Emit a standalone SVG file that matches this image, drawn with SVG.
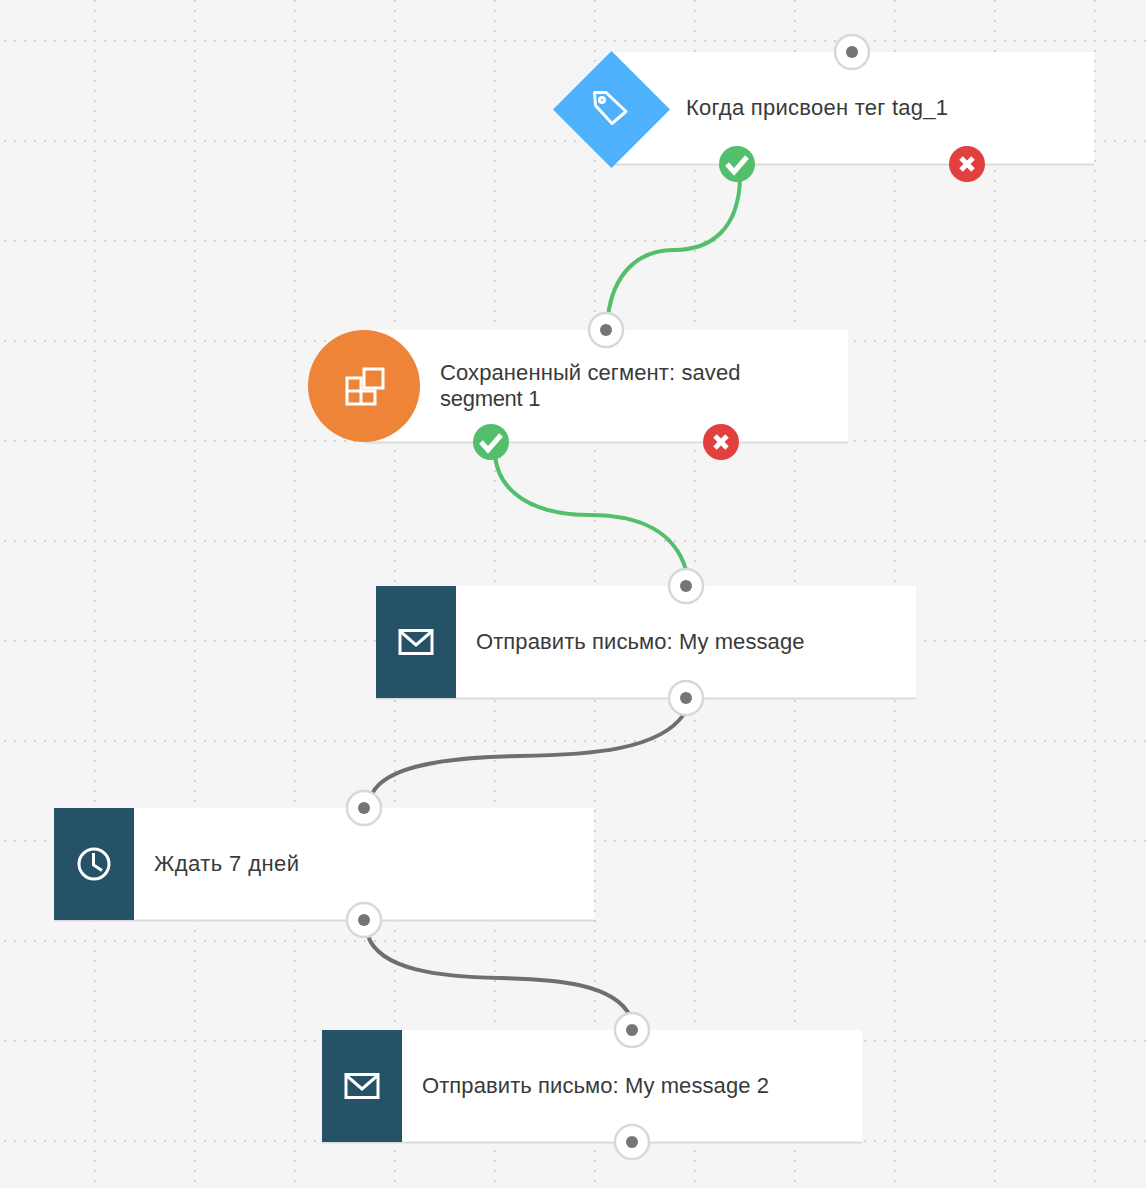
<svg xmlns="http://www.w3.org/2000/svg" width="1146" height="1188" viewBox="0 0 1146 1188">
<style>
.bg{fill:#f5f5f5}
.gh,.gv{stroke:#d2d2d2;stroke-width:2;stroke-dasharray:2 8;fill:none}
.card{fill:#fff}
.edge{fill:none;stroke:#dcdcdc;stroke-width:2}
.t{font-family:"Liberation Sans",Arial,sans-serif;font-size:22px;fill:#3a3a3a}
.dark{fill:#265268}
.ic{fill:none;stroke:#fff;stroke-width:3}
.port{fill:#fff;stroke:#d8d8d8;stroke-width:2.5}
.dot{fill:#757575}
.yes{fill:#53bf6b}
.no{fill:#e23f3f}
.mark{fill:none;stroke:#fff;stroke-width:5}
.cg{fill:none;stroke:#53bf6b;stroke-width:4;stroke-linecap:round}
.cd{fill:none;stroke:#6f6f6f;stroke-width:4;stroke-linecap:round}
</style>
<defs>
<g id="p"><circle r="17" class="port"/><circle r="6" class="dot"/></g>
<g id="y"><circle r="18" class="yes"/><path class="mark" d="M-10 0L-3 8L10 -7"/></g>
<g id="n"><circle r="18" class="no"/><path class="mark" d="M-6 -6L6 6M6 -6L-6 6"/></g>
<g id="mail"><rect x="-16" y="-11.500" width="32" height="23" class="ic"/><path class="ic" d="M-15 -10L0 3L15 -10"/></g>
</defs>
<rect class="bg" width="1146" height="1188"/>
<g id="grid">
<path class="gh" d="M4 41H1146M4 141H1146M4 241H1146M4 341H1146M4 441H1146M4 541H1146M4 641H1146M4 741H1146M4 841H1146M4 941H1146M4 1041H1146M4 1141H1146"/>
<path class="gv" d="M95 0V1188M195 0V1188M295 0V1188M395 0V1188M495 0V1188M595 0V1188M695 0V1188M795 0V1188M895 0V1188M995 0V1188M1095 0V1188"/>
</g>
<g id="connectors">
<path class="cg" d="M740 178C739 228 712 250 674 250C636 250 613 276 608 316"/>
<path class="cg" d="M495 456C499 492 532 515 590 515C640 515 675 532 686 570"/>
<path class="cd" d="M684 714C660 750 590 755 520 756C450 757 386 765 372 794"/>
<path class="cd" d="M368 936C380 970 440 977 500 978C560 979 615 985 630 1016"/>
</g>
<g id="node-trigger">
<rect class="card" x="612" y="52" width="482" height="112"/>
<path class="edge" d="M612 164.500H1094"/>
<path d="M611.500 51L670 109.500L611.500 168L553 109.500Z" fill="#4eb1fb"/>
<path class="ic" d="M594.500 92.500L606 92.500L626 111.500L612 123.500L595.500 105.500Z" stroke-linejoin="round"/>
<circle class="ic" cx="602" cy="100" r="2.500" stroke-width="2"/>
<text class="t" x="686" y="115" textLength="262">Когда присвоен тег tag_1</text>
<use href="#p" x="852" y="52"/>
<use href="#y" x="737" y="164"/>
<use href="#n" x="967" y="164"/>
</g>
<g id="node-segment">
<rect class="card" x="364" y="330" width="484" height="112"/>
<path class="edge" d="M364 442.500H848"/>
<circle cx="364" cy="386" r="56" fill="#ed8437"/>
<path class="ic" d="M347 378H361V404H347ZM347 391H375V404H361"/>
<rect class="ic" x="364" y="369" width="19" height="19"/>
<text class="t" x="440" y="380" textLength="300.500">Сохраненный сегмент: saved</text>
<text class="t" x="440" y="406" textLength="100.500">segment 1</text>
<use href="#p" x="606" y="330"/>
<use href="#y" x="491" y="442"/>
<use href="#n" x="721" y="442"/>
</g>
<g id="node-mail-1">
<rect class="card" x="376" y="586" width="540" height="112"/>
<path class="edge" d="M376 698.500H916"/>
<rect class="dark" x="376" y="586" width="80" height="112"/>
<use href="#mail" x="416" y="642"/>
<text class="t" x="476" y="649" textLength="328.500">Отправить письмо: My message</text>
<use href="#p" x="686" y="586"/>
<use href="#p" x="686" y="698"/>
</g>
<g id="node-wait">
<rect class="card" x="54" y="808" width="540" height="112"/>
<path class="edge" d="M54 920.500H594"/>
<rect class="dark" x="54" y="808" width="80" height="112"/>
<circle class="ic" cx="94" cy="864" r="15"/>
<path class="ic" d="M93.500 853V865L102 870.500"/>
<text class="t" x="154" y="871" textLength="145">Ждать 7 дней</text>
<use href="#p" x="364" y="808"/>
<use href="#p" x="364" y="920"/>
</g>
<g id="node-mail-2">
<rect class="card" x="322" y="1030" width="540" height="112"/>
<path class="edge" d="M322 1142.500H862"/>
<rect class="dark" x="322" y="1030" width="80" height="112"/>
<use href="#mail" x="362" y="1086"/>
<text class="t" x="422" y="1093" textLength="347">Отправить письмо: My message 2</text>
<use href="#p" x="632" y="1030"/>
<use href="#p" x="632" y="1142"/>
</g>
</svg>
